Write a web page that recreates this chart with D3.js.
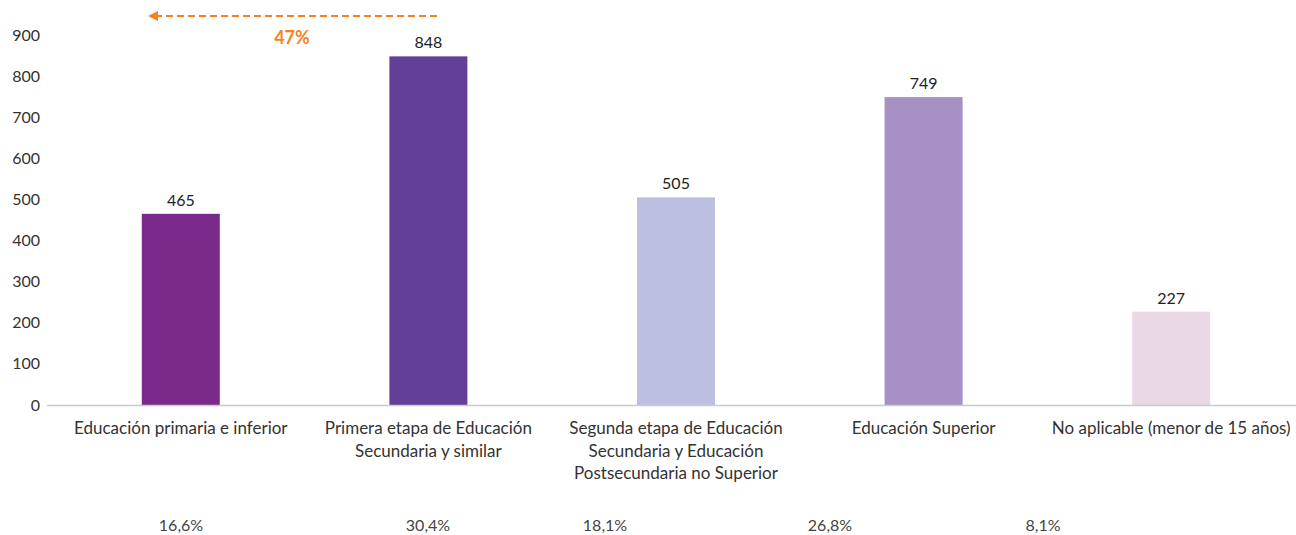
<!DOCTYPE html>
<html><head><meta charset="utf-8">
<script src="https://cdn.jsdelivr.net/npm/d3@7"></script>
<style>body{margin:0;background:#fff}svg{display:block}text{font-family:Lato,"Open Sans",sans-serif}</style>
</head><body><svg id="c" width="1296" height="535"></svg>
<script>
const categories = [
  ["Educación primaria e inferior"],
  ["Primera etapa de Educación","Secundaria y similar"],
  ["Segunda etapa de Educación","Secundaria y Educación","Postsecundaria no Superior"],
  ["Educación Superior"],
  ["No aplicable (menor de 15 años)"]
];
const values = [465, 848, 505, 749, 227];
const colors = ["#7b2a8b", "#643f98", "#bdbfe0", "#a790c4", "#e9d9e7"];
const yTicks = [0,100,200,300,400,500,600,700,800,900];
const shares = ["16,6%","30,4%","18,1%","26,8%","8,1%"];
const annotation = "47%";

const svg = d3.select("#c");
const x = d3.scaleBand().domain(d3.range(categories.length)).range([57,1295]).paddingInner(0.685).paddingOuter(0.3425);
const y = d3.scaleLinear().domain([0,900]).range([405,35]);

svg.append("g").selectAll("text").data(yTicks).join("text")
  .attr("x",40).attr("y",d=>y(d)).attr("dy","0.35em").attr("text-anchor","end")
  .attr("font-size",16).attr("fill","#333").text(d=>d);

svg.append("g").selectAll("rect").data(values).join("rect")
  .attr("x",(d,i)=>x(i)).attr("width",x.bandwidth())
  .attr("y",d=>y(d)).attr("height",d=>y(0)-y(d))
  .attr("fill",(d,i)=>colors[i]);

svg.append("line").attr("x1",47).attr("x2",1296).attr("y1",y(0)+0.5).attr("y2",y(0)+0.5)
  .attr("stroke","#c8cccc").attr("stroke-width",1.5);

svg.append("g").selectAll("text").data(values).join("text")
  .attr("x",(d,i)=>x(i)+x.bandwidth()/2).attr("y",d=>y(d)-8)
  .attr("text-anchor","middle").attr("font-size",16).attr("fill","#222").text(d=>d);

const cl = svg.append("g").selectAll("text").data(categories).join("text")
  .attr("x",(d,i)=>x(i)+x.bandwidth()/2).attr("y",434)
  .attr("text-anchor","middle").attr("font-size",17).attr("fill","#333");
cl.selectAll("tspan").data(d=>d).join("tspan")
  .attr("x",function(){return this.parentNode.getAttribute("x");})
  .attr("dy",(d,i)=>i?22.5:0).text(d=>d);

const shareX = [181, 428, 605, 830, 1043];
svg.append("g").selectAll("text").data(shares).join("text")
  .attr("x",(d,i)=>shareX[i]).attr("y",531).attr("text-anchor","middle")
  .attr("font-size",16).attr("fill","#444").text(d=>d);

svg.append("defs").append("marker").attr("id","ah").attr("viewBox","0 0 10 10")
  .attr("refX",6).attr("refY",5).attr("markerWidth",5).attr("markerHeight",5).attr("orient","auto")
  .append("path").attr("d","M0,0L10,5L0,10z").attr("fill","#f5821f");
svg.append("line").attr("x1",437).attr("x2",152).attr("y1",16).attr("y2",16)
  .attr("stroke","#f5821f").attr("stroke-width",2).attr("stroke-dasharray","7,4")
  .attr("marker-end","url(#ah)");
svg.append("text").attr("x",292).attr("y",44).attr("text-anchor","middle")
  .attr("font-size",18).attr("font-weight","bold").attr("fill","#f5821f").text(annotation);
</script></body></html>
